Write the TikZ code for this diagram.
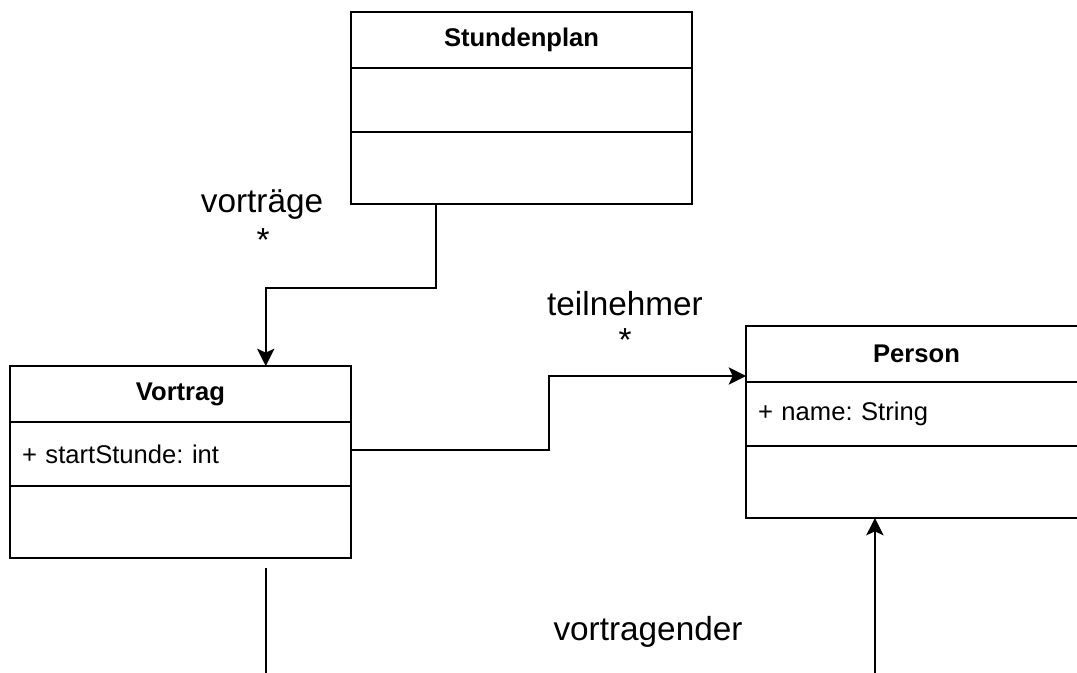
\documentclass[tikz,border=0pt]{standalone}
\usepackage{fontspec}
\setmainfont{Liberation Sans}
\usetikzlibrary{arrows.meta,positioning,calc}
\frenchspacing

\begin{document}
\begin{tikzpicture}[
  x=0.75pt, y=-0.75pt,
  node distance=0pt,
  part/.style={draw,line width=1.3pt,minimum width=341*0.75pt,inner sep=0pt,outer sep=0pt},
  head/.style={part,minimum height=56*0.75pt,font=\fontsize{19.2}{23}\selectfont\bfseries},
  attr/.style={part,minimum height=64*0.75pt,text width=317*0.75pt,inner xsep=12*0.75pt,
    align=left,font=\fontsize{19.2}{23}\selectfont\frenchspacing},
  ops/.style={part,minimum height=72*0.75pt},
  role/.style={font=\fontsize{25}{30}\selectfont,inner sep=0pt},
  assoc/.style={line width=1.3pt,-{Stealth[length=13pt,width=13pt,inset=3pt]}},
  link/.style={line width=1.3pt}
]
\useasboundingbox (0,0) rectangle (1077,673);
\clip (0,0) rectangle (1077,673);

% classes
\node[head] (plan-head) at (521.5,40) {Stundenplan};
\node[attr,below=of plan-head] (plan-attr) {};
\node[ops,below=of plan-attr] (plan-ops) {};

\node[head] (vortrag-head) at (180.5,394) {Vortrag};
\node[attr,below=of vortrag-head] (vortrag-attr) {+ startStunde: int};
\node[ops,below=of vortrag-attr] (vortrag-ops) {};

\node[head] (person-head) at (916.5,354) {Person};
\node[attr,below=of person-head] (person-attr) {+ name: String};
\node[ops,below=of person-attr] (person-ops) {};

% role names and multiplicities
\node[role] (vortraege-role) at (262,205) {vorträge};
\node[role] (vortraege-mult) at (263,240) {*};
\node[role] (teilnehmer-role) at (625,304) {teilnehmer};
\node[role] (teilnehmer-mult) at (625,340) {*};
\node[role] (vortragender-role) at (648,632) {vortragender};

% associations
\draw[assoc] ($(plan-ops.south west)!.25!(plan-ops.south east)$) -- ++(0,84)
  -| ($(vortrag-head.north west)!.75!(vortrag-head.north east)$);
\draw[assoc] ([yshift=3pt]vortrag-attr.east) -- ++(198,0) |- ([yshift=4.5pt]person-head.south west);

\coordinate (vortrag-out) at ($(vortrag-ops.south west)!.75!(vortrag-ops.south east)+(0,10)$);
\draw[link] (vortrag-out) -- ++(0,120);

\coordinate (person-in) at ($(person-ops.south west)!.378!(person-ops.south east)$);
\draw[assoc] ($(person-in)+(0,170)$) -- (person-in);
\end{tikzpicture}
\end{document}
